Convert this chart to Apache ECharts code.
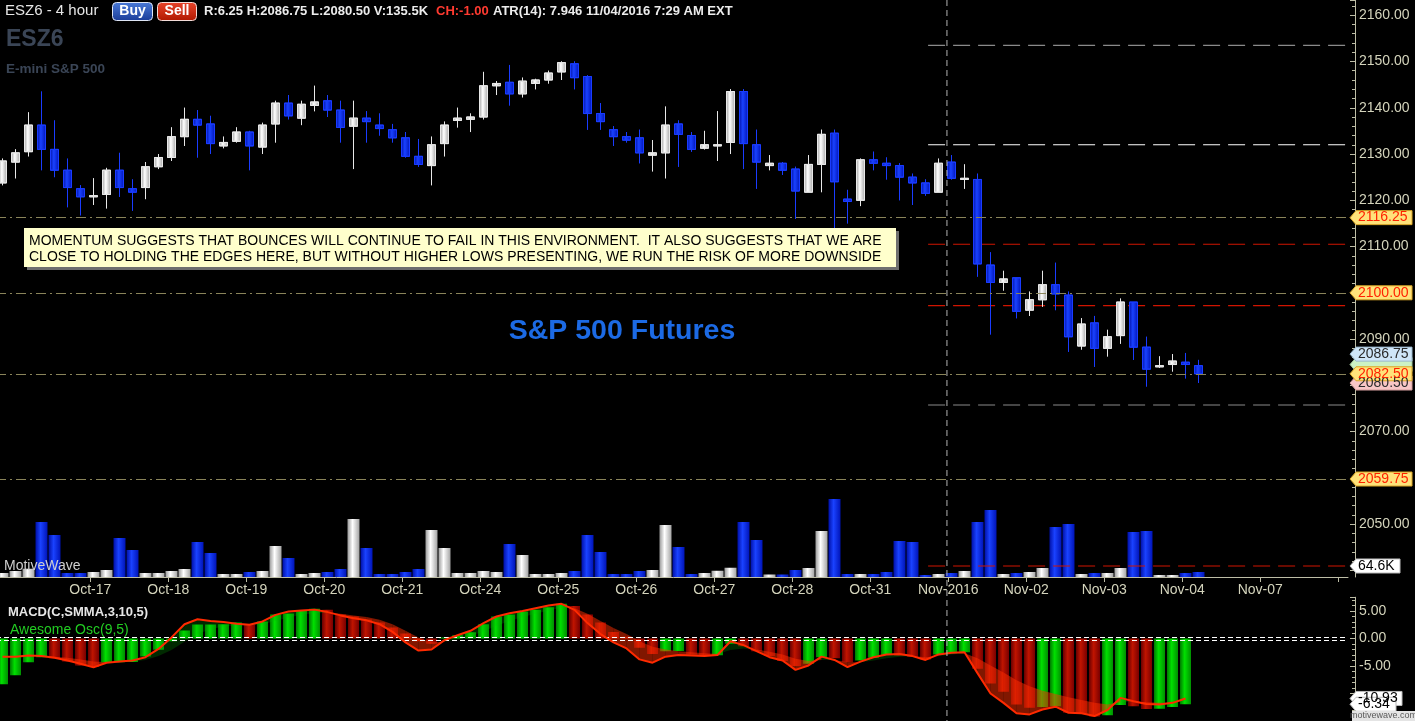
<!DOCTYPE html>
<html><head><meta charset="utf-8">
<script src="https://cdn.jsdelivr.net/npm/echarts@6/dist/echarts.min.js"></script>
<style>html,body{margin:0;padding:0;background:#000;overflow:hidden}#c{width:1415px;height:721px}</style>
</head><body><div id="c"></div>
<script>
// ---------------- DATA ----------------
const opens = [2123.75,2128.25,2130.5,2136.25,2131.0,2126.5,2122.5,2120.75,2121.25,2126.5,
2122.5,2122.75,2127.25,2129.25,2133.75,2137.5,2136.5,2131.75,2132.75,2134.75,
2131.5,2136.5,2141.0,2137.75,2140.5,2141.5,2139.5,2136.0,2137.75,2136.25,
2135.25,2133.5,2129.5,2127.5,2132.25,2137.25,2137.5,2138.0,2144.75,2145.5,
2143.0,2145.25,2146.0,2147.75,2149.5,2146.75,2138.75,2135.25,2133.75,2133.5,
2129.75,2130.25,2136.5,2134.0,2131.25,2131.75,2132.5,2143.5,2132.0,2127.5,
2128.0,2126.75,2121.75,2127.75,2134.5,2120.25,2120.0,2128.75,2128.0,2127.5,
2125.0,2123.75,2121.75,2128.25,2124.5,2124.5,2106.0,2102.25,2103.25,2096.25,
2098.5,2101.75,2099.5,2088.5,2093.5,2088.0,2090.75,2098.0,2088.25,2084.0,
2084.5,2085.0,2084.25];
const highs = [2129.0,2131.0,2139.0,2143.5,2137.25,2129.0,2123.25,2124.75,2127.0,2130.25,
2124.5,2128.25,2130.0,2135.75,2140.0,2139.5,2138.25,2133.75,2135.75,2135.0,
2136.75,2141.5,2142.75,2141.5,2144.75,2142.75,2141.5,2141.5,2139.25,2138.75,
2136.5,2134.75,2133.25,2133.75,2137.0,2140.0,2138.75,2147.75,2145.75,2149.25,
2146.5,2146.25,2148.0,2150.0,2150.0,2147.0,2141.0,2136.0,2134.75,2135.25,
2133.0,2140.25,2137.25,2134.75,2135.0,2139.25,2144.0,2144.0,2135.25,2129.75,
2128.25,2127.25,2129.75,2135.25,2135.25,2122.25,2129.0,2130.5,2129.25,2128.0,
2125.75,2124.5,2129.0,2129.75,2127.75,2125.75,2108.75,2104.75,2103.25,2100.25,
2104.75,2106.5,2100.25,2094.5,2095.0,2092.0,2098.75,2098.0,2090.5,2086.25,
2086.75,2087.0,2085.5];
const lows = [2123.25,2124.75,2129.5,2126.5,2125.0,2118.5,2116.75,2119.0,2118.25,2120.75,
2117.75,2120.25,2126.75,2128.5,2131.75,2129.25,2130.0,2131.25,2132.5,2126.5,
2130.0,2132.5,2137.5,2136.25,2139.25,2138.0,2132.5,2126.75,2132.5,2134.0,
2132.5,2129.25,2127.25,2123.25,2129.5,2135.75,2134.75,2137.5,2142.75,2140.5,
2142.25,2144.0,2145.25,2146.0,2144.0,2135.25,2135.25,2131.75,2132.5,2128.0,
2126.25,2124.75,2127.25,2130.5,2131.0,2128.5,2130.0,2126.75,2122.5,2126.5,
2125.5,2116.0,2121.75,2121.75,2113.75,2115.0,2118.75,2126.5,2124.5,2120.0,
2119.0,2121.0,2121.75,2124.5,2122.5,2103.5,2091.0,2100.5,2094.5,2095.0,
2097.0,2096.25,2087.25,2087.75,2084.0,2086.25,2089.0,2085.5,2079.75,2083.75,
2083.0,2081.5,2080.5];
const closes = [2128.5,2130.25,2136.25,2131.0,2126.5,2122.75,2120.75,2121.0,2126.5,2122.75,
2121.75,2127.25,2129.25,2133.75,2137.5,2136.25,2132.25,2132.5,2134.75,2131.75,
2136.25,2141.0,2138.25,2140.75,2141.25,2139.5,2135.75,2137.75,2137.0,2135.5,
2133.5,2129.5,2127.75,2132.0,2136.25,2137.75,2138.0,2144.75,2145.25,2143.0,
2145.75,2146.0,2147.5,2149.75,2146.5,2138.75,2137.0,2133.75,2133.0,2130.25,
2130.25,2136.25,2134.25,2131.0,2132.0,2132.0,2143.5,2132.25,2128.25,2128.0,
2126.5,2122.0,2127.75,2134.25,2124.0,2119.75,2128.75,2128.0,2127.5,2125.0,
2123.75,2121.5,2128.0,2124.75,2124.75,2106.25,2102.25,2103.0,2096.0,2098.5,
2101.75,2099.75,2090.5,2093.25,2088.0,2090.5,2098.0,2088.25,2083.5,2084.25,
2085.25,2084.5,2082.5];
// volume in thousands of contracts
const volumes = [23,35,49,323,247,23,23,29,41,229,
158,23,23,35,47,205,141,18,18,29,
35,182,112,18,23,29,47,340,170,18,
18,29,47,276,170,23,23,35,29,194,
129,18,18,23,35,247,147,18,18,35,
41,305,176,18,23,37,55,323,217,14,
14,41,53,270,458,18,18,18,29,211,
205,12,18,23,35,323,393,18,23,29,
53,294,311,18,23,23,53,264,270,12,
12,23,29];
// Awesome Oscillator histogram
const aoValues = [-8.3,-6.7,-4.3,-3.4,-3.6,-4.2,-4.9,-5.2,-4.35,-4.3,
-4.25,-3.26,-2.05,-0.48,1.45,2.54,2.56,2.58,2.9,2.54,
3.08,4.35,4.53,5.07,5.43,5.25,4.35,3.99,3.44,2.9,
1.99,0.9,-0.5,-0.97,0.2,0.6,1.15,2.6,3.99,4.35,
4.9,5.25,5.7,6.34,5.9,4.35,2.9,1.2,0.3,-1.7,
-2.8,-2.3,-2.25,-2.9,-3.2,-3.05,-0.95,-1.4,-2.3,-3.2,
-4.1,-5.0,-4.6,-3.4,-3.6,-4.3,-4.0,-3.5,-3.0,-3.1,
-3.3,-3.8,-2.9,-2.7,-2.5,-5.5,-8.2,-9.7,-12.0,-12.6,
-12.45,-12.3,-13.5,-13.65,-14.2,-13.95,-12.1,-12.3,-12.8,-12.75,
-12.44,-11.96];
// MACD(C,SMMA,3,10,5) line and signal
const macdLine = [-3.3,-3.3,-3.1,-3.2,-3.5,-4.0,-4.6,-5.25,-4.4,-4.2,
-4.0,-3.4,-1.9,0.2,2.6,3.5,3.2,3.0,2.7,2.5,
3.1,4.3,4.9,5.1,5.25,4.8,4.2,3.7,3.3,2.6,
1.2,-0.7,-2.2,-2.0,-0.3,0.6,1.4,2.8,4.0,4.6,
5.0,5.5,6.0,6.3,5.2,2.8,0.8,-0.7,-1.8,-3.8,
-4.4,-3.3,-3.0,-3.1,-3.2,-3.0,-0.5,-1.2,-2.3,-3.4,
-4.0,-5.7,-4.9,-3.3,-3.9,-5.2,-4.2,-3.4,-2.9,-2.8,
-3.2,-3.9,-2.9,-2.6,-2.5,-6.3,-10.0,-11.7,-13.6,-13.8,
-12.9,-12.4,-13.5,-13.6,-14.1,-13.0,-10.8,-11.4,-11.9,-12.0,
-11.7,-10.9];
const signalLine = [-3.3,-3.3,-3.2,-3.2,-3.3,-3.5,-3.8,-4.2,-4.3,-4.3,
-4.2,-3.9,-3.2,-2.1,-0.6,0.8,1.7,2.2,2.4,2.4,
2.6,3.2,3.8,4.3,4.6,4.7,4.5,4.2,3.9,3.4,
2.6,1.4,0.2,-0.7,-0.6,-0.2,0.4,1.3,2.3,3.2,
3.9,4.5,5.1,5.6,5.5,4.5,3.2,1.9,0.8,-0.5,
-1.5,-2.0,-2.3,-2.5,-2.7,-2.8,-2.1,-1.8,-2.0,-2.4,
-2.9,-3.7,-4.1,-3.9,-3.9,-4.3,-4.3,-4.0,-3.6,-3.3,
-3.2,-3.4,-3.2,-2.9,-2.7,-3.6,-4.9,-6.2,-7.6,-8.7,
-9.5,-10.1,-10.7,-11.2,-11.7,-12.0,-11.6,-11.5,-11.6,-11.7,
-11.7,-11.4];
const dayStartBar = [7,13,19,25,31,37,43,49,55,61,67,73,79,85,91,97,103];
const dayLabels = ['Oct-17','Oct-18','Oct-19','Oct-20','Oct-21','Oct-24','Oct-25','Oct-26','Oct-27','Oct-28','Oct-31','Nov-2016','Nov-02','Nov-03','Nov-04','Nov-07',''];
const dashDotLevels = [2116.25, 2100.00, 2082.50, 2059.75];
const redLevels = [2110.5, 2097.25];
const whiteLevels = [2132.0];
const grayLevels = [2153.5, 2075.75];
const volumeMarker = 64.6;
const totalSlots = 104;
const levelStartBar = 71.2;
const sessionBreakBar = 72.65;
const header = {symbol:'ESZ6 - 4 hour', stats:'R:6.25 H:2086.75 L:2080.50 V:135.5K', change:'CH:-1.00', tail:'ATR(14): 7.946 11/04/2016 7:29 AM EXT'};
const noteLines = ['MOMENTUM SUGGESTS THAT BOUNCES WILL CONTINUE TO FAIL IN THIS ENVIRONMENT.  IT ALSO SUGGESTS THAT WE ARE',
                   'CLOSE TO HOLDING THE EDGES HERE, BUT WITHOUT HIGHER LOWS PRESENTING, WE RUN THE RISK OF MORE DOWNSIDE'];

// ---------------- CHART ----------------
const chart = echarts.init(document.getElementById('c'));
const FONT = '"Liberation Sans", Arial, sans-serif';
const LBL = '#d4d4bc';
const AXC = '#bdbda6';
const cats = Array.from({length: totalSlots}, (_, i) => String(i));
const HG = (a, b, c) => new echarts.graphic.LinearGradient(0, 0, 1, 0, [
  {offset: 0, color: a}, {offset: 0.42, color: b}, {offset: 1, color: c}]);
const upFill = HG('#9a9a9a', '#ffffff', '#a4a4a4');
const dnFill = HG('#0010a8', '#1a42ff', '#0014b8');
const grFill = HG('#007a00', '#00e000', '#009000');
const rdFill = HG('#6a0000', '#c01400', '#7a0000');
const isUp = i => closes[i] >= opens[i];

const candleData = opens.map((o, i) => [o, closes[i], lows[i], highs[i]]);
const volData = volumes.map((v, i) => ({value: v, itemStyle: {color: isUp(i) ? upFill : dnFill}}));
const aoData = aoValues.map((v, i) => ({value: v, itemStyle: {color: (i === 0 || v >= aoValues[i - 1]) ? grFill : rdFill}}));
const lastSlot = totalSlots - 0.5;

function levelSeries(levels, color, dash) {
  return levels.map(v => ({
    type: 'line', xAxisIndex: 3, yAxisIndex: 0, symbol: 'none', silent: true, z: 3,
    data: [[levelStartBar, v], [lastSlot, v]],
    lineStyle: {color: color, width: 1.2, type: dash}
  }));
}

const gridBase = {left: -4, right: 67, outerBoundsMode: 'none', containLabel: false};
const yTick = {show: true, inside: true, length: 5, lineStyle: {color: AXC}};
const yMinor = {show: true, splitNumber: 5, length: 3, lineStyle: {color: AXC}};
const option = {
  backgroundColor: '#000000',
  animation: false,
  grid: [
    Object.assign({top: 0, height: 570.4}, gridBase),
    Object.assign({top: 477, height: 100}, gridBase),
    Object.assign({top: 597.25, height: 123.75}, gridBase)
  ],
  xAxis: [
    {type: 'category', gridIndex: 0, data: cats, show: false},
    {type: 'category', gridIndex: 1, data: cats, show: false},
    {type: 'category', gridIndex: 2, data: cats, show: false},
    {type: 'value', gridIndex: 0, min: -0.5, max: lastSlot, show: false},
    {type: 'value', gridIndex: 1, min: -0.5, max: lastSlot, position: 'bottom',
      axisLine: {show: true, onZero: false, lineStyle: {color: AXC}},
      axisTick: {show: true, length: 5, lineStyle: {color: AXC}, customValues: dayStartBar.map(k => k - 0.25)},
      axisLabel: {color: LBL, fontSize: 14, fontFamily: FONT, margin: 6,
        customValues: dayStartBar.slice(0, -1).map(k => k - 0.25),
        formatter: v => { const i = dayStartBar.indexOf(Math.round(v + 0.25)); return i >= 0 ? dayLabels[i] : ''; }},
      splitLine: {show: false}},
    {type: 'value', gridIndex: 2, min: -0.5, max: lastSlot, show: false}
  ],
  yAxis: [
    {type: 'value', gridIndex: 0, position: 'right', offset: 7, min: 2040, max: 2163.29, interval: 10,
      axisLine: {show: true, onZero: false, lineStyle: {color: AXC}},
      axisTick: yTick, minorTick: yMinor, splitLine: {show: false},
      axisLabel: {color: LBL, fontSize: 14, fontFamily: FONT, margin: 4,
        formatter: v => (v >= 2050 && v <= 2160 && Math.abs(v % 10) < 1e-6) ? v.toFixed(2) : ''}},
    {type: 'value', gridIndex: 1, position: 'right', offset: 7, min: 0, max: 587,
      axisLine: {show: true, onZero: false, lineStyle: {color: AXC}}, axisTick: {show: false},
      axisLabel: {show: false}, splitLine: {show: false}},
    {type: 'value', gridIndex: 2, position: 'right', offset: 7, min: -15, max: 7.5, interval: 5,
      axisLine: {show: true, onZero: false, lineStyle: {color: AXC}},
      axisTick: yTick, minorTick: yMinor, splitLine: {show: false},
      axisLabel: {color: LBL, fontSize: 14, fontFamily: FONT, margin: 4,
        formatter: v => (v >= -5 && v <= 5 && Math.abs(v % 5) < 1e-6) ? v.toFixed(2) : ''}}
  ],
  series: [
    {type: 'candlestick', xAxisIndex: 0, yAxisIndex: 0, data: candleData, barWidth: 9, z: 4,
      itemStyle: {color: upFill, color0: dnFill, borderColor: '#e8e8e8', borderColor0: '#1a3cff', borderWidth: 1},
      markLine: {silent: true, symbol: ['none', 'none'], label: {show: false},
        data: dashDotLevels.map(v => ({yAxis: v, lineStyle: {color: '#8a845a', width: 1.2, type: [10, 4, 2, 4]}}))}},
    ...levelSeries(redLevels, '#d01400', [17, 8]),
    ...levelSeries(whiteLevels, '#ffffff', [17, 8]),
    ...levelSeries(grayLevels, '#8a8a8a', [17, 8]),
    {type: 'bar', xAxisIndex: 1, yAxisIndex: 1, data: volData, barWidth: 12, z: 2},
    {type: 'line', xAxisIndex: 4, yAxisIndex: 1, symbol: 'none', silent: true, z: 3,
      data: [[levelStartBar, volumeMarker], [lastSlot, volumeMarker]],
      lineStyle: {color: '#d01400', width: 1.2, type: [17, 8]}},
    {type: 'bar', xAxisIndex: 2, yAxisIndex: 2, data: aoData, barWidth: 11, z: 2,
      markLine: {silent: true, symbol: ['none', 'none'], label: {show: false},
        data: [{yAxis: 0.25}, {yAxis: -0.25}],
        lineStyle: {color: '#ffffff', width: 1, type: [5, 3]}}},
    {type: 'custom', xAxisIndex: 5, yAxisIndex: 2, z: 3, silent: true,
      data: macdLine.map((v, i) => [i, v, signalLine[i]]),
      encode: {x: 0, y: [1, 2]},
      renderItem: function (params, api) {
        const i = params.dataIndex;
        if (i >= macdLine.length - 1) return {type: 'group', children: []};
        const a1 = api.coord([i, macdLine[i]]), a2 = api.coord([i + 1, macdLine[i + 1]]);
        const b2 = api.coord([i + 1, signalLine[i + 1]]), b1 = api.coord([i, signalLine[i]]);
        const below = (macdLine[i] + macdLine[i + 1]) < (signalLine[i] + signalLine[i + 1]);
        return {type: 'polygon', shape: {points: [a1, a2, b2, b1]},
          style: {fill: below ? 'rgba(255,45,0,0.5)' : 'rgba(0,190,0,0.22)'}};
      }},
    {type: 'line', xAxisIndex: 5, yAxisIndex: 2, symbol: 'none', silent: true, z: 5,
      data: macdLine.map((v, i) => [i, v]),
      lineStyle: {color: '#ff2a00', width: 2}}
  ]
};
chart.setOption(option);

// ---------- annotations (positions derived from the axes) ----------
const yPx = (yi, v) => chart.convertToPixel({yAxisIndex: yi}, v);
const xPx = v => chart.convertToPixel({xAxisIndex: 3}, v);
const axisX = xPx(lastSlot) + 7;
function flag(yi, value, text, fill, stroke, color, w) {
  const y = yPx(yi, value);
  const tip = axisX - 5, l = axisX + 1, r = l + (w || 56), h = 7;
  const els = [{type: 'polygon', z: 50, shape: {points: [[tip, y], [l, y - h], [r, y - h], [r, y + h], [l, y + h]]},
    style: {fill: fill, stroke: stroke, lineWidth: 1}}];
  if (text) els.push({type: 'text', z: 51, x: l + 2, y: y, style: {text: text, fill: color, font: '14px ' + FONT, verticalAlign: 'middle'}});
  return els;
}
const sx = xPx(sessionBreakBar);
const graphics = [
  {type: 'line', z: 40, silent: true, shape: {x1: sx, y1: 0, x2: sx, y2: 721}, style: {stroke: '#b4b4b4', lineWidth: 1, lineDash: [6, 4]}},
  // header
  {type: 'text', x: 5, y: 11, style: {text: header.symbol, fill: '#e6e6e6', font: '15px ' + FONT, verticalAlign: 'middle'}},
  {type: 'rect', shape: {x: 112.5, y: 2.5, width: 40, height: 18, r: 4},
    style: {fill: new echarts.graphic.LinearGradient(0, 0, 0, 1, [{offset: 0, color: '#4a7ad8'}, {offset: 1, color: '#1a3c98'}]), stroke: '#dfe6f5', lineWidth: 1}},
  {type: 'text', x: 132.5, y: 11.5, style: {text: 'Buy', fill: '#ffffff', font: 'bold 14px ' + FONT, align: 'center', verticalAlign: 'middle'}},
  {type: 'rect', shape: {x: 157.5, y: 2.5, width: 39, height: 18, r: 4},
    style: {fill: new echarts.graphic.LinearGradient(0, 0, 0, 1, [{offset: 0, color: '#e8442a'}, {offset: 1, color: '#b01800'}]), stroke: '#f3dcd8', lineWidth: 1}},
  {type: 'text', x: 177, y: 11.5, style: {text: 'Sell', fill: '#ffffff', font: 'bold 14px ' + FONT, align: 'center', verticalAlign: 'middle'}},
  {type: 'text', x: 204, y: 11, style: {text: header.stats, fill: '#ececec', font: 'bold 13px ' + FONT, verticalAlign: 'middle'}},
  {type: 'text', x: 436, y: 11, style: {text: header.change, fill: '#ff3a30', font: 'bold 13px ' + FONT, verticalAlign: 'middle'}},
  {type: 'text', x: 493, y: 11, style: {text: header.tail, fill: '#ececec', font: 'bold 13px ' + FONT, verticalAlign: 'middle'}},
  {type: 'text', x: 6, y: 40, style: {text: 'ESZ6', fill: '#3a4556', font: 'bold 23px ' + FONT, verticalAlign: 'middle'}},
  {type: 'text', x: 6, y: 69, style: {text: 'E-mini S&P 500', fill: '#3a4556', font: 'bold 13.5px ' + FONT, verticalAlign: 'middle'}},
  // note box
  {type: 'rect', z: 20, shape: {x: 27, y: 231, width: 872, height: 39}, style: {fill: '#6e6e6e'}},
  {type: 'rect', z: 21, shape: {x: 24, y: 228, width: 872, height: 39}, style: {fill: '#ffffcc'}},
  {type: 'text', z: 22, x: 29, y: 241, style: {text: noteLines[0], fill: '#000000', font: '14px ' + FONT, verticalAlign: 'middle'}},
  {type: 'text', z: 22, x: 29, y: 257, style: {text: noteLines[1], fill: '#000000', font: '14px ' + FONT, verticalAlign: 'middle'}},
  {type: 'text', z: 22, x: 622, y: 331, style: {text: 'S&P 500 Futures', fill: '#1c6ae4', font: 'bold 28.5px ' + FONT, align: 'center', verticalAlign: 'middle'}},
  {type: 'text', z: 22, x: 4, y: 566, style: {text: 'MotiveWave', fill: '#cfcfcf', font: '14px ' + FONT, verticalAlign: 'middle'}},
  {type: 'text', z: 22, x: 8, y: 612, style: {text: 'MACD(C,SMMA,3,10,5)', fill: '#e6e6e6', font: 'bold 13px ' + FONT, verticalAlign: 'middle'}},
  {type: 'text', z: 22, x: 10, y: 630, style: {text: 'Awesome Osc(9,5)', fill: '#22cc22', font: '14px ' + FONT, verticalAlign: 'middle'}},
  // flags on the axes
  ...flag(0, 2116.25, '2116.25', '#ffe27a', '#d9a526', '#ff2200'),
  ...flag(0, 2100.00, '2100.00', '#ffe27a', '#d9a526', '#ff2200'),
  ...flag(0, 2084.5, '', '#ccf2c4', '#9fc69a', '#222'),
  ...flag(0, 2086.75, '2086.75', '#cfe6f8', '#9ab8cc', '#2a2a2a'),
  ...flag(0, 2080.50, '2080.50', '#f8c6c6', '#d09a9a', '#2a2a2a'),
  ...flag(0, 2082.50, '2082.50', '#ffe27a', '#d9a526', '#ff2200'),
  ...flag(0, 2059.75, '2059.75', '#ffe27a', '#d9a526', '#ff2200'),
  ...flag(1, volumeMarker, '64.6K', '#ffffff', '#bbbbbb', '#000000', 44),
  ...flag(2, macdLine[macdLine.length - 1], '-10.93', '#ffffff', '#bbbbbb', '#000000', 46),
  ...flag(2, aoValues[aoValues.length - 1], '-6.34', '#ffffff', '#bbbbbb', '#000000', 40),
  {type: 'rect', z: 60, shape: {x: 1352, y: 711, width: 63, height: 10}, style: {fill: '#e4e4e4'}},
  {type: 'text', z: 61, x: 1383.5, y: 716, style: {text: 'motivewave.com', fill: '#5a5a5a', font: '9px ' + FONT, align: 'center', verticalAlign: 'middle'}}
];
chart.setOption({graphic: graphics});
</script></body></html>
